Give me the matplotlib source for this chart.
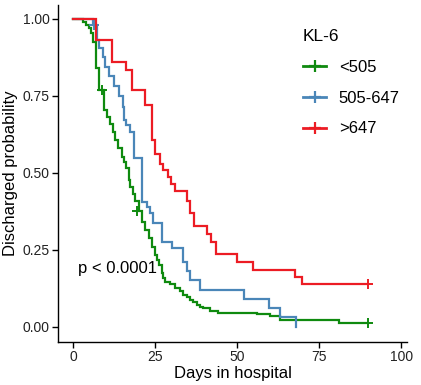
import matplotlib
matplotlib.use("Agg")
import matplotlib.pyplot as plt
from matplotlib.lines import Line2D

plt.rcParams['font.family'] = ['Liberation Sans', 'DejaVu Sans']

groups = ["<505", "505-647", ">647"]
colors = ["#0f8a0f", "#4a86b8", "#ec1c24"]

# green (<505)
g_time = [0, 3, 4, 4.7, 5.4, 6, 7, 8, 9.5, 10.4, 11.3, 12.1, 12.8, 13.8, 14.8, 15.5,
          16.2, 16.9, 17.4, 18.4, 19, 20, 20.9, 22, 23, 24, 25, 25.7, 26.3, 27, 27.5,
          28, 29.6, 31.1, 32.6, 33.6, 34.6, 35.7, 36.7, 37.7, 38.7, 39.7, 41.8, 44.3,
          56, 60, 63, 81]
g_surv = [1.0, 0.99, 0.98, 0.97, 0.955, 0.926, 0.84, 0.77, 0.705, 0.683, 0.66, 0.634,
          0.607, 0.58, 0.553, 0.535, 0.515, 0.477, 0.455, 0.43, 0.41, 0.375, 0.34, 0.315,
          0.288, 0.26, 0.235, 0.218, 0.2, 0.174, 0.158, 0.145, 0.138, 0.126, 0.115, 0.104,
          0.096, 0.088, 0.08, 0.071, 0.066, 0.061, 0.053, 0.046, 0.042, 0.034, 0.022, 0.014]
g_cens_t = [8.7, 19.4, 90]
g_cens_s = [0.77, 0.375, 0.014]

# blue (505-647)
b_time = [0, 6, 7.2, 8, 9, 9.8, 11, 12.6, 14.1, 15.1, 15.5, 16.2, 17.4, 18.6, 20.9,
          22.5, 23.3, 24.5, 27, 30.1, 33.6, 34.7, 35.7, 38.8, 52, 59.6, 63, 68]
b_surv = [1.0, 0.98, 0.93, 0.905, 0.877, 0.845, 0.815, 0.782, 0.748, 0.715, 0.672,
          0.656, 0.634, 0.548, 0.407, 0.39, 0.369, 0.337, 0.277, 0.255, 0.21, 0.183,
          0.153, 0.12, 0.09, 0.06, 0.031, 0.0]
b_cens_t = [6.5]
b_cens_s = [0.98]

# red (>647)
r_time = [0, 7, 12, 16, 18, 22, 24, 25, 26.5, 27.5, 29, 30, 31, 34.7, 35.7, 36.9,
          40.8, 42, 43.6, 49.9, 54.8, 67.7, 69.7]
r_surv = [1.0, 0.93, 0.86, 0.835, 0.77, 0.72, 0.607, 0.56, 0.53, 0.51, 0.487, 0.465,
          0.441, 0.41, 0.37, 0.328, 0.302, 0.277, 0.236, 0.21, 0.185, 0.161, 0.14]
r_cens_t = [90]
r_cens_s = [0.14]

x_ticks = [0, 25, 50, 75, 100]
y_ticks = [0.0, 0.25, 0.5, 0.75, 1.0]
y_ticklabels = ["0.00", "0.25", "0.50", "0.75", "1.00"]

fig = plt.figure(figsize=(4.21, 3.85), dpi=100)
ax = fig.add_axes([58/421, 1-342/385, (407-58)/421, (342-5)/385])

series = [
    (g_time, g_surv, g_cens_t, g_cens_s),
    (b_time, b_surv, b_cens_t, b_cens_s),
    (r_time, r_surv, r_cens_t, r_cens_s),
]
lw = 1.6
for (t, s, ct, cs), c in zip(series, colors):
    tt = list(t)
    ss = list(s)
    if ct and ct[-1] > tt[-1]:
        tt.append(ct[-1]); ss.append(ss[-1])
    ax.step(tt, ss, where='post', color=c, lw=lw, solid_joinstyle='miter')
    ax.plot(ct, cs, linestyle='none', marker='+', markersize=7, mew=1.4, color=c)

ax.set_xlim(-4.6, 101.8)
ax.set_ylim(-0.049, 1.045)
ax.set_xticks(x_ticks)
ax.set_yticks(y_ticks)
ax.set_yticklabels(y_ticklabels)
for sp in ['top', 'right']:
    ax.spines[sp].set_visible(False)
for sp in ['left', 'bottom']:
    ax.spines[sp].set_linewidth(1.0)
ax.tick_params(axis='both', labelsize=10, length=4, width=1.0, colors='black',
               labelcolor='#222222', pad=2)
ax.set_xlabel("Days in hospital", fontsize=12, labelpad=1)
ax.set_ylabel("Discharged probability", fontsize=12, labelpad=3)

ax.text(1.5, 0.19, "p < 0.0001", fontsize=12, va='center', ha='left')

handles = [Line2D([0], [0], color=c, lw=2, marker='+', markersize=9, mew=1.6)
           for c in colors]
leg = ax.legend(handles, groups, title="KL-6", loc='upper left',
                bbox_to_anchor=(303/421, 1-29/385), bbox_transform=fig.transFigure,
                frameon=False, fontsize=12, title_fontsize=12.5, alignment='left',
                handlelength=1.4, handletextpad=0.75, labelspacing=0.95,
                borderaxespad=0, borderpad=0)

fig.savefig("out.png", dpi=100)
